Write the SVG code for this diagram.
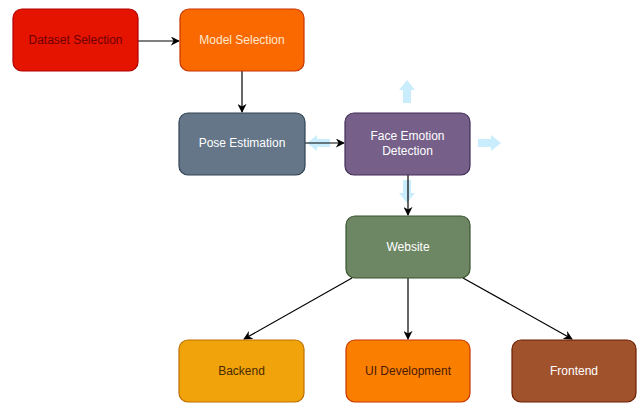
<svg xmlns="http://www.w3.org/2000/svg" width="637" height="403" viewBox="0 0 637 403">
<defs>
<marker id="ah" viewBox="0 0 10 10" refX="9" refY="5" markerWidth="9" markerHeight="9" markerUnits="userSpaceOnUse" orient="auto">
<path d="M0,0 L10,5 L0,10 L3,5 Z" fill="#000"/>
</marker>
<style>
.box{stroke-width:1.2}
.t{font-family:"Liberation Sans",Arial,sans-serif;font-size:12px;text-anchor:middle;dominant-baseline:central}
.c{stroke:#000;stroke-width:1.2;fill:none;marker-end:url(#ah)}
.hint{fill:#29b6f2;opacity:0.25}
</style>
</defs>
<rect width="637" height="403" fill="#fff"/>
<g id="hints">
<path class="hint" d="M403,103 L403,90 L399,90 L407,80 L415,90 L411,90 L411,103 Z"/>
<path class="hint" d="M478,139 L491,139 L491,135 L501,143 L491,151 L491,147 L478,147 Z"/>
<path class="hint" d="M330,139 L317,139 L317,135 L307,143 L317,151 L317,147 L330,147 Z"/>
<path class="hint" d="M403,180 L403,193 L399,193 L407,203 L415,193 L411,193 L411,180 Z"/>
</g>
<g id="connectors">
<line class="c" x1="138" y1="41" x2="179" y2="41"/>
<line class="c" x1="242" y1="71" x2="242" y2="112"/>
<line class="c" x1="305" y1="143" x2="344" y2="143"/>
<line class="c" x1="408" y1="175" x2="408" y2="215"/>
<line class="c" x1="352" y1="278" x2="244" y2="339"/>
<line class="c" x1="408" y1="278" x2="408" y2="339"/>
<line class="c" x1="463" y1="278" x2="572" y2="339"/>
</g>
<g id="dataset">
<rect class="box" x="13" y="9" width="125" height="62" rx="9" fill="#e51400" stroke="#b20000"/>
<text class="t" x="75.5" y="40" fill="#6f0000">Dataset Selection</text>
</g>
<g id="model">
<rect class="box" x="180" y="9" width="124" height="62" rx="9" fill="#fa6800" stroke="#c73500"/>
<text class="t" x="242" y="40" fill="#ffe8cc">Model Selection</text>
</g>
<g id="pose">
<rect class="box" x="179" y="113" width="126" height="62" rx="9" fill="#647687" stroke="#314354"/>
<text class="t" x="242" y="143" fill="#ffffff">Pose Estimation</text>
</g>
<g id="face">
<rect class="box" x="345" y="113" width="125" height="62" rx="9" fill="#76608a" stroke="#432d57"/>
<text class="t" x="407.5" y="136" fill="#ffffff">Face Emotion</text>
<text class="t" x="407.5" y="151" fill="#ffffff">Detection</text>
</g>
<g id="website">
<rect class="box" x="346" y="216" width="124" height="62" rx="9" fill="#6d8764" stroke="#3a5431"/>
<text class="t" x="408" y="247" fill="#ffffff">Website</text>
</g>
<g id="backend">
<rect class="box" x="179" y="340" width="125" height="62" rx="9" fill="#f0a30a" stroke="#bd7000"/>
<text class="t" x="241.5" y="371" fill="#4a2a00">Backend</text>
</g>
<g id="ui">
<rect class="box" x="346" y="340" width="124" height="62" rx="9" fill="#fa7f00" stroke="#c73500"/>
<text class="t" x="408" y="371" fill="#4a1a00">UI Development</text>
</g>
<g id="frontend">
<rect class="box" x="512" y="340" width="124" height="62" rx="9" fill="#a0522d" stroke="#6d1f00"/>
<text class="t" x="574" y="371" fill="#ffffff">Frontend</text>
</g>
</svg>
